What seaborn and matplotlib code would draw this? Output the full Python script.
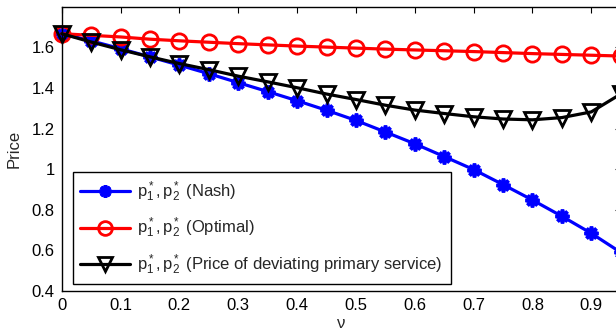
import numpy as np
import pandas as pd
import seaborn as sns
import matplotlib
matplotlib.use("Agg")
import matplotlib.pyplot as plt

# ---- data ----
nu = [0.0, 0.05, 0.10, 0.15, 0.20, 0.25, 0.30, 0.35, 0.40, 0.45,
      0.50, 0.55, 0.60, 0.65, 0.70, 0.75, 0.80, 0.85, 0.90, 0.95]
nash = [1.667, 1.632, 1.593, 1.553, 1.512, 1.470, 1.426, 1.382, 1.337, 1.290,
        1.240, 1.183, 1.125, 1.062, 0.998, 0.924, 0.848, 0.768, 0.684, 0.590]
optimal = [1.667, 1.659, 1.651, 1.640, 1.632, 1.625, 1.618, 1.612, 1.606, 1.601,
           1.596, 1.591, 1.587, 1.583, 1.579, 1.574, 1.569, 1.565, 1.561, 1.557]
deviating = [1.667, 1.626, 1.588, 1.553, 1.520, 1.490, 1.458, 1.430, 1.401, 1.370,
             1.343, 1.315, 1.291, 1.274, 1.258, 1.247, 1.243, 1.254, 1.282, 1.370]
labels = [r"$\mathregular{p_1^*,p_2^*}$ (Nash)",
          r"$\mathregular{p_1^*,p_2^*}$ (Optimal)",
          r"$\mathregular{p_1^*,p_2^*}$ (Price of deviating primary service)"]
xticks = [0, 0.1, 0.2, 0.3, 0.4, 0.5, 0.6, 0.7, 0.8, 0.9]
yticks = [0.4, 0.6, 0.8, 1.0, 1.2, 1.4, 1.6]
ytick_labels = ["0.4", "0.6", "0.8", "1", "1.2", "1.4", "1.6"]
xtick_labels = ["0", "0.1", "0.2", "0.3", "0.4", "0.5", "0.6", "0.7", "0.8", "0.9"]

sns.set_theme(style="white")
plt.rcParams["font.family"] = ["Liberation Sans", "DejaVu Sans"]
plt.rcParams["mathtext.fontset"] = "custom"
plt.rcParams["mathtext.rm"] = "Liberation Sans"
plt.rcParams["mathtext.it"] = "Liberation Sans:italic"

fig = plt.figure(figsize=(6.16, 3.33), dpi=100)
ax = fig.add_axes([0.1002, 0.1261, 0.9075, 0.8538])

styles = [
    dict(y=nash, color="#0000ff", marker=(8, 2, 0), ms=10, mew=2.6, mfc="#0000ff"),
    dict(y=optimal, color="#ff0000", marker="o", ms=11, mew=2.0, mfc="none"),
    dict(y=deviating, color="#000000", marker="v", ms=11.5, mew=2.0, mfc="none"),
]
for st, lab in zip(styles, labels):
    sns.lineplot(x=nu, y=st["y"], ax=ax, color=st["color"], marker=st["marker"],
                 markersize=st["ms"], markeredgewidth=st["mew"],
                 markerfacecolor=st["mfc"], markeredgecolor=st["color"],
                 linewidth=2.3, label=lab, clip_on=False)

ax.set_xlim(0, 0.95)
ax.set_ylim(0.4, 1.8)
ax.set_xticks(xticks)
ax.set_xticklabels(xtick_labels)
ax.set_yticks(yticks)
ax.set_yticklabels(ytick_labels)
ax.tick_params(direction="in", length=4, width=0.8, top=True, right=True,
               labelsize=12, colors="black", pad=5)
for sp in ax.spines.values():
    sp.set_color("black")
    sp.set_linewidth(1.0)
    sp.set_visible(True)
ax.set_xlabel("ν", fontsize=12, labelpad=2)
ax.set_ylabel("Price", fontsize=12, labelpad=7)

leg = ax.legend(loc="lower left", bbox_to_anchor=(0.0208, 0.0246, 0.675, 0.38),
                mode="expand", fontsize=12, frameon=True, fancybox=False,
                framealpha=1, edgecolor="black", borderaxespad=0,
                handlelength=3.0, handletextpad=0.4, labelspacing=0.75,
                borderpad=0.4, markerscale=0.9)
leg.get_frame().set_linewidth(1.0)

fig.savefig("out.png", dpi=100)
